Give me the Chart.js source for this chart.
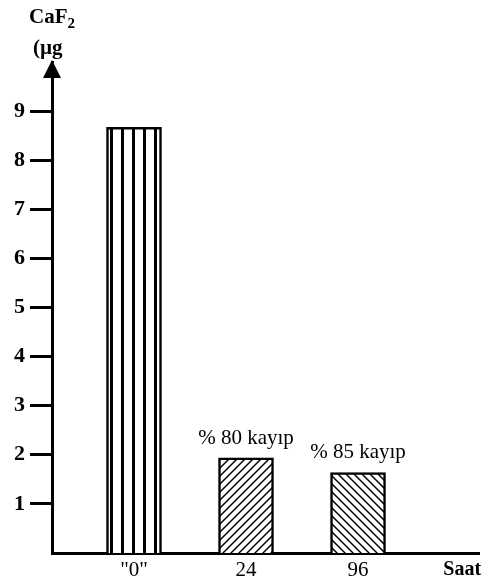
<!DOCTYPE html>
<html>
<head>
<meta charset="utf-8">
<script src="https://cdn.jsdelivr.net/npm/chart.js@4"></script>
<style>
  html, body { margin: 0; padding: 0; background: #fff; }
  #wrap { width: 489px; height: 584px; position: relative; }
</style>
</head>
<body>
<div id="wrap"><canvas id="chart"></canvas></div>
<script>
const xPositions = [1, 2, 3];
const xLabels = ['"0"', '24', '96'];
const values = [8.67, 1.94, 1.64];
const notes = ['', '% 80 kayıp', '% 85 kayıp'];
const yTicks = [1, 2, 3, 4, 5, 6, 7, 8, 9];
const xTitle = 'Saat';

const serif = '"Liberation Serif", "DejaVu Serif", serif';

function makePattern(kind) {
    const c = document.createElement('canvas');
    const size = kind === 'stripes' ? 11 : 8;
    c.width = size; c.height = size;
    const g = c.getContext('2d');
    g.fillStyle = '#fff';
    g.fillRect(0, 0, size, size);
    g.fillStyle = '#000';
    g.strokeStyle = '#000';
    if (kind === 'stripes') {
        g.fillRect(0, 0, 3, size);
    } else {
        g.lineWidth = 1.5;
        g.beginPath();
        if (kind === 'fwd') {
            g.moveTo(-1, size + 1); g.lineTo(size + 1, -1);
            g.moveTo(-1, 1); g.lineTo(1, -1);
            g.moveTo(size - 1, size + 1); g.lineTo(size + 1, size - 1);
        } else {
            g.moveTo(-1, -1); g.lineTo(size + 1, size + 1);
            g.moveTo(size - 1, -1); g.lineTo(size + 1, 1);
            g.moveTo(-1, size - 1); g.lineTo(1, size + 1);
        }
        g.stroke();
    }
    return g.createPattern(c, 'repeat');
}

const fills = [makePattern('stripes'), makePattern('fwd'), makePattern('back')];

const extras = {
    id: 'extras',
    afterDraw(chart) {
        const ctx = chart.ctx;
        const area = chart.chartArea;
        ctx.save();
        // arrow head on the y axis
        ctx.fillStyle = '#000';
        ctx.beginPath();
        ctx.moveTo(area.left, area.top - 2);
        ctx.lineTo(area.left - 9, area.top + 16);
        ctx.lineTo(area.left + 9, area.top + 16);
        ctx.closePath();
        ctx.fill();

        // axis unit label
        ctx.textBaseline = 'alphabetic';
        ctx.textAlign = 'left';
        ctx.font = 'bold 21px ' + serif;
        ctx.fillText('CaF', 29, 23);
        const w = ctx.measureText('CaF').width;
        ctx.font = 'bold 15px ' + serif;
        ctx.fillText('2', 29 + w, 28);
        ctx.font = 'bold 21px ' + serif;
        ctx.fillText('(µg', 33, 54);

        // notes above bars
        const meta = chart.getDatasetMeta(0);
        ctx.font = '21px ' + serif;
        ctx.textAlign = 'center';
        meta.data.forEach((bar, i) => {
            if (notes[i]) ctx.fillText(notes[i], bar.x, bar.y - 14);
        });
        ctx.restore();
    }
};

new Chart(document.getElementById('chart'), {
    type: 'bar',
    data: {
        datasets: [{
            data: xPositions.map((x, i) => ({ x: x, y: values[i] })),
            backgroundColor: fills,
            borderColor: '#000',
            borderWidth: 2.5,
            barThickness: 55
        }]
    },
    options: {
        responsive: true,
        maintainAspectRatio: false,
        animation: false,
        layout: { padding: { top: 62, right: 10, left: 0, bottom: 0 } },
        plugins: { legend: { display: false }, tooltip: { enabled: false } },
        scales: {
            x: {
                type: 'linear',
                offset: false,
                min: 0.268,
                max: 4.08,
                afterBuildTicks: s => {
                    s.ticks = xPositions.map(v => ({ value: v })).concat([{ value: 3.93 }]);
                },
                afterFit: s => { s.height = 31; },
                grid: { display: false, drawTicks: false, tickLength: 0 },
                border: { color: '#000', width: 3 },
                ticks: {
                    color: '#000',
                    padding: 5,
                    autoSkip: false,
                    maxRotation: 0,
                    font: c => ({ family: serif, size: c.index === 3 ? 20 : 21, weight: c.index === 3 ? 'bold' : 'normal' }),
                    callback: (v, i) => i < xLabels.length ? xLabels[i] : xTitle
                }
            },
            y: {
                min: 0,
                max: 10,
                afterBuildTicks: s => {
                    s.ticks = yTicks.map(v => ({ value: v }));
                },
                afterFit: s => { s.width = 52; },
                grid: {
                    drawOnChartArea: false,
                    drawTicks: true,
                    tickLength: 22,
                    tickWidth: 3,
                    tickColor: '#000'
                },
                border: { color: '#000', width: 3 },
                ticks: {
                    color: '#000',
                    padding: 5,
                    font: { family: serif, size: 22, weight: 'bold' }
                }
            }
        }
    },
    plugins: [extras]
});
</script>
</body>
</html>
